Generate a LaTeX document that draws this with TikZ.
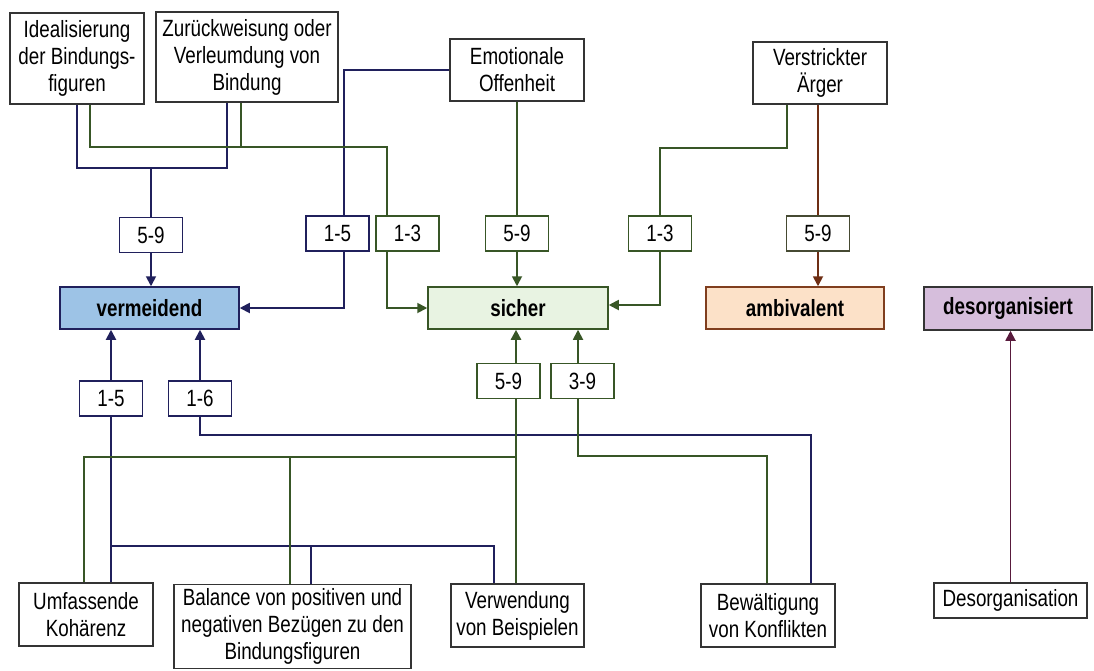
\documentclass[tikz,border=0pt]{standalone}
\usepackage{fontspec}
\setmainfont{Liberation Sans}[FakeStretch=0.8]
\usetikzlibrary{arrows.meta}

\definecolor{navy}{RGB}{32,32,92}
\definecolor{leaf}{RGB}{56,86,38}
\definecolor{rust}{RGB}{110,46,20}
\definecolor{plum}{RGB}{88,26,60}
\definecolor{frame}{RGB}{52,52,52}
\definecolor{olivegray}{RGB}{70,74,50}
\definecolor{blueFill}{RGB}{157,195,230}
\definecolor{greenFill}{RGB}{232,243,226}
\definecolor{peachFill}{RGB}{252,225,200}
\definecolor{lilacFill}{RGB}{214,190,220}
\definecolor{peachLine}{RGB}{128,62,30}

\tikzset{
  txt/.style={font=\fontsize{23.5}{27}\selectfont},
  box/.style={txt, draw=frame, line width=1.5pt, fill=white, align=center, inner sep=0pt},
  lab/.style={txt, draw, line width=1.5pt, fill=white, minimum width=63pt, minimum height=35pt, inner sep=0pt},
  cat/.style={font=\fontsize{23.5}{27}\selectfont\bfseries, line width=1.5pt, minimum height=42pt, inner sep=0pt},
  nv/.style={draw=navy, line width=1.8pt},
  gr/.style={draw=leaf, line width=1.8pt},
  grb/.style={draw=leaf, line width=2.4pt},
  br/.style={draw=rust, line width=1.8pt},
  mr/.style={draw=plum, line width=1.8pt},
  tip/.style={-{Triangle[length=10pt,width=10pt]}}
}

\begin{document}
\begin{tikzpicture}[x=1pt,y=-1pt]
\useasboundingbox (0,0) rectangle (1094,670);

% --- top feature boxes ---
\node[box, minimum width=134pt, minimum height=91pt] (ideal) at (77,58.5) {Idealisierung\\der Bindungs-\\figuren};
\node[box, minimum width=182pt, minimum height=90pt] (zur) at (247,57) {Zurückweisung oder\\Verleumdung von\\Bindung};
\node[box, minimum width=134pt, minimum height=62pt] (emot) at (517,70) {Emotionale\\Offenheit};
\node[box, minimum width=134pt, minimum height=62pt] (verstr) at (820,73) {Verstrickter\\Ärger};

% --- upper score labels ---
\node[lab, draw=navy] (l59a) at (151,235) {5-9};
\node[lab, draw=navy] (l15a) at (337.5,233.5) {1-5};
\node[lab, draw=leaf] (l13a) at (407.5,233.5) {1-3};
\node[lab, draw=leaf] (l59b) at (517,233.5) {5-9};
\node[lab, draw=leaf] (l13b) at (660,233.5) {1-3};
\node[lab, draw=olivegray] (l59c) at (818,233.5) {5-9};

% --- attachment categories ---
\node[cat, draw=navy, fill=blueFill, minimum width=179pt] (verm) at (149.5,308) {vermeidend};
\node[cat, draw=leaf, fill=greenFill, minimum width=180pt] (sich) at (518,308) {sicher};
\node[cat, draw=peachLine, fill=peachFill, minimum width=178pt] (ambi) at (795,308) {ambivalent};
\node[cat, draw=frame, fill=lilacFill, minimum width=168pt, minimum height=43pt] (desorg) at (1008,308.5) {desorganisiert};

% --- lower score labels ---
\node[lab, draw=navy] (l15b) at (111,398.5) {1-5};
\node[lab, draw=navy] (l16) at (200,398.5) {1-6};
\node[lab, draw=leaf] (l59d) at (508.5,381) {5-9};
\node[lab, draw=leaf] (l39) at (582.5,381) {3-9};

% --- bottom feature boxes ---
\node[box, minimum width=134pt, minimum height=63pt] (umf) at (86,614.5) {Umfassende\\Kohärenz};
\node[box, minimum width=237pt, minimum height=84pt] (bal) at (292.5,626.5) {Balance von positiven und\\negativen Bezügen zu den\\Bindungsfiguren};
\node[box, minimum width=133pt, minimum height=63pt] (verw) at (517.5,615.5) {Verwendung\\von Beispielen};
\node[box, minimum width=134pt, minimum height=63pt] (bew) at (768,615.5) {Bewältigung\\von Konflikten};
\node[box, minimum width=153pt, minimum height=35pt] (desbox) at (1010.5,600.5) {Desorganisation};

% --- junction points ---
\coordinate (nj) at (151,168);
\coordinate (gj) at (387,147);
\coordinate (gk) at (660,148);
\coordinate (nb) at (111,546);
\coordinate (nc) at (200,435);
\coordinate (gb) at (516,457);
\coordinate (gc) at (578,456);

% --- upper connectors: avoidant ---
\draw[nv] (ideal.south) |- (nj) -| ([xshift=-20pt]zur.south);
\draw[nv] (nj) -- (l59a.north);
\draw[nv,tip] (l59a.south) -- (l59a.south |- verm.north);
\draw[nv] (emot.west) -| ([xshift=6.5pt]l15a.north);
\draw[nv,tip] ([xshift=6.5pt]l15a.south) |- (verm.east);

% --- upper connectors: secure ---
\draw[gr] ([xshift=13pt]ideal.south) |- (gj) -- ([xshift=-20.5pt]l13a.north);
\draw[gr] ([xshift=-6pt]zur.south) -- ([xshift=-6pt]zur.south |- gj);
\draw[gr,tip] ([xshift=-20.5pt]l13a.south) |- (sich.west);
\draw[gr] (emot.south) -- (emot.south |- l59b.north);
\draw[gr,tip] (l59b.south) -- (l59b.south |- sich.north);
\draw[gr] ([xshift=-33pt]verstr.south) |- (gk) -- (l13b.north);
\draw[gr,tip] (l13b.south) |- ([yshift=3pt]sich.east);

% --- upper connectors: ambivalent ---
\draw[br] (verstr.south -| l59c.north) -- (l59c.north);
\draw[br,tip] (l59c.south) -- (l59c.south |- ambi.north);

% --- lower connectors: avoidant ---
\draw[nv] (l15b.south) -- (l15b.south |- umf.north);
\draw[nv] (nb) -| ([xshift=-23.5pt]verw.north);
\draw[nv] ([xshift=18.5pt]bal.north) |- (nb);
\draw[nv,tip] (l15b.north) -- (l15b.north |- verm.south);
\draw[nv] ([xshift=43pt]bew.north) |- (nc) -- (l16.south);
\draw[nv,tip] (l16.north) -- (l16.north |- verm.south);

% --- lower connectors: secure ---
\draw[grb] ([xshift=7.5pt]l59d.south) -- (gb);
\draw[gr] (gb) -- ([xshift=-1.5pt]verw.north);
\draw[gr] ([xshift=-2pt]umf.north) |- (gb);
\draw[gr] ([xshift=-2.5pt]bal.north) -- ([xshift=-2.5pt]bal.north |- gb);
\draw[grb,tip] ([xshift=7.5pt]l59d.north) -- ([xshift=7.5pt]l59d.north |- sich.south);
\draw[gr] ([xshift=-1pt]bew.north) |- (gc) -- ([xshift=-4.5pt]l39.south);
\draw[gr,tip] ([xshift=-4.5pt]l39.north) -- ([xshift=-4.5pt]l39.north |- sich.south);

% --- disorganised ---
\draw[mr,tip] (desbox.north) -- (desbox.north |- desorg.south);
\end{tikzpicture}
\end{document}
